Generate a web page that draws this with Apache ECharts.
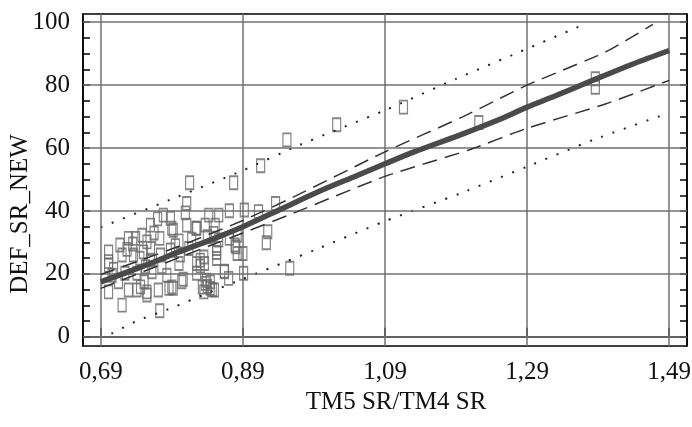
<!DOCTYPE html>
<html>
<head>
<meta charset="utf-8">
<script src="https://cdn.jsdelivr.net/npm/echarts@6/dist/echarts.min.js"></script>
<style>
html,body{margin:0;padding:0;background:#fff;}
#chart{width:692px;height:427px;}
</style>
</head>
<body>
<div id="chart"></div>
<script>
const xTicks = [0.69, 0.89, 1.09, 1.29, 1.49];
const xTickLabels = ['0,69', '0,89', '1,09', '1,29', '1,49'];
const yTicks = [0, 20, 40, 60, 80, 100];
const yMinorTicks = [0,5,10,15,20,25,30,35,40,45,50,55,60,65,70,75,80,85,90,95,100];
const xTitle = 'TM5 SR/TM4 SR';
const yTitle = 'DEF_SR_NEW';

const points = [
  [0.915,54.4],[0.952,62.6],[1.022,67.4],[1.116,73.0],[1.222,68.1],[1.386,82.0],[1.386,79.3],
  [0.815,49.0],[0.877,49.0],[0.811,42.4],[0.936,42.4],[0.892,40.3],[0.912,39.8],[0.925,33.4],
  [0.923,29.9],[0.956,21.8],[0.891,20.2],[0.890,26.5],[0.879,29.2],
  [0.778,38.7],[0.788,37.7],[0.809,39.4],[0.842,38.7],[0.856,38.7],[0.871,40.1],
  [0.811,35.5],[0.792,33.9],[0.773,31.3],[0.824,34.5],[0.837,35.5],[0.851,35.5],[0.840,31.8],
  [0.856,30.8],[0.871,31.3],[0.882,32.3],[0.880,28.6],[0.853,28.1],[0.853,24.9],[0.835,25.4],
  [0.830,22.5],[0.864,20.9],[0.870,18.6],
  [0.837,17.0],[0.844,15.4],[0.850,14.9],[0.835,14.3],[0.844,17.5],[0.792,15.4],[0.771,14.9],
  [0.755,14.3],[0.741,14.9],[0.729,14.9],[0.701,14.3],[0.720,10.1],[0.773,8.3],[0.755,13.3],[0.806,18.3],
  [0.701,27.0],[0.701,23.9],[0.717,29.2],[0.729,31.3],[0.739,31.3],[0.748,32.3],[0.755,30.2],
  [0.760,28.1],[0.720,26.0],[0.736,26.0],[0.750,27.0],[0.760,24.4],[0.753,22.3],[0.774,26.0],
  [0.788,27.6],[0.802,26.0],[0.814,28.1],[0.800,23.3],[0.776,22.3],[0.762,20.7],[0.741,20.2],
  [0.724,20.2],[0.706,19.6],[0.701,22.8],[0.746,15.9],[0.783,19.6],[0.825,20.2],[0.825,23.3],
  [0.786,15.4],[0.751,17.5],[0.790,34.5],[0.825,34.5],[0.849,32.9],[0.790,15.9],[0.804,17.5],
  [0.830,24.4],[0.836,23.3],[0.853,26.8],[0.864,20.7],[0.882,26.5],[0.840,16.0],[0.847,15.0],
  [0.833,15.8],[0.839,18.0],
  [0.735,29.5],[0.745,25.0],[0.765,33.0],[0.727,27.8],[0.708,21.5],[0.715,17.5],[0.770,37.5],
  [0.760,35.5],[0.800,30.5],[0.795,29.0],[0.818,31.0]
];

const fitLine = [[0.69,17.5],[0.75,22.5],[0.80,27.0],[0.85,31.3],[0.89,35.0],[0.95,41.3],[1.00,46.5],
  [1.05,51.2],[1.09,55.0],[1.13,58.7],[1.196,64.2],[1.25,69.0],[1.29,73.0],[1.33,76.6],[1.383,81.6],
  [1.44,86.8],[1.49,91.0]];
const confUpper = [[0.69,19.8],[0.80,28.8],[0.89,37.0],[0.96,44.3],[1.09,58.8],[1.20,70.0],[1.29,80.0],[1.40,90.5],[1.467,99.3]];
const confLower = [[0.69,15.4],[0.80,25.2],[0.89,33.0],[0.96,39.2],[1.09,51.0],[1.208,59.4],[1.29,66.3],[1.40,74.0],[1.49,81.5]];
const predUpper = [[0.69,34.8],[0.79,43.8],[0.89,52.9],[0.97,61.0],[1.09,72.0],[1.19,82.0],[1.28,90.6],[1.365,98.8]];
const predLower = [[0.705,1.0],[0.741,5.1],[0.79,9.2],[0.841,14.0],[0.89,18.4],[0.99,27.5],[1.088,36.6],[1.196,45.6],[1.29,54.1],[1.383,62.6],[1.49,71.2]];

const font = '"Liberation Serif", "Times New Roman", serif';
const chart = echarts.init(document.getElementById('chart'), null, {renderer: 'canvas'});

chart.setOption({
  animation: false,
  backgroundColor: '#fff',
  grid: {left: 83, right: 5, top: 14, bottom: 81, show: true, borderColor: '#000', borderWidth: 1.5,
    backgroundColor: 'transparent', containLabel: false, outerBoundsMode: 'none'},
  xAxis: {
    type: 'value', min: 0.665, max: 1.515,
    name: xTitle, nameLocation: 'middle', nameGap: 44, nameMoveOverlap: false,
    nameTextStyle: {fontFamily: font, fontSize: 25, color: '#111', padding: [0, 0, 0, 22]},
    axisLine: {show: true, lineStyle: {color: '#000', width: 1.5}},
    axisTick: {show: true, inside: true, length: 9, customValues: xTicks, lineStyle: {color: '#000', width: 1.5}},
    axisLabel: {show: true, customValues: xTicks, margin: 14, fontFamily: font, fontSize: 25, color: '#111',
      hideOverlap: false,
      formatter: function (v) { const i = xTicks.findIndex(t => Math.abs(t - v) < 1e-6); return i >= 0 ? xTickLabels[i] : ''; }},
    splitLine: {show: false}
  },
  yAxis: [{
    type: 'value', min: -2.9, max: 102.6, position: 'left',
    name: yTitle, nameLocation: 'middle', nameGap: 50, nameRotate: 90, nameMoveOverlap: false,
    nameTextStyle: {fontFamily: font, fontSize: 25, color: '#111', padding: [0, 68, 0, 0]},
    axisLine: {show: true, lineStyle: {color: '#000', width: 1.5}},
    axisTick: {show: true, inside: true, length: 7, customValues: yMinorTicks, lineStyle: {color: '#000', width: 1.5}},
    axisLabel: {show: true, customValues: yTicks, margin: 13, fontFamily: font, fontSize: 25, color: '#111'},
    splitLine: {show: false}
  }, {
    type: 'value', min: -2.9, max: 102.6, position: 'right',
    axisLine: {show: true, lineStyle: {color: '#000', width: 1.5}},
    axisTick: {show: true, inside: true, length: 7, customValues: yMinorTicks, lineStyle: {color: '#000', width: 1.5}},
    axisLabel: {show: false},
    splitLine: {show: false}
  }],
  series: [
    {
      type: 'line', data: [], z: 1, silent: true,
      markLine: {
        silent: true, symbol: ['none', 'none'], animation: false,
        label: {show: false},
        lineStyle: {color: '#707070', width: 1.5, type: 'solid'},
        emphasis: {disabled: true},
        data: xTicks.map(v => ({xAxis: v})).concat(yTicks.map(v => ({yAxis: v})))
      }
    },
    {
      type: 'scatter', data: points, z: 3, symbol: 'rect', symbolSize: [8, 13],
      itemStyle: {color: 'rgba(0,0,0,0)', borderColor: '#666', borderWidth: 1.5}
    },
    {type: 'line', data: predUpper, z: 4, showSymbol: false, smooth: 0.2,
      lineStyle: {color: '#222', width: 2, type: [2, 10]}},
    {type: 'line', data: predLower, z: 4, showSymbol: false, smooth: 0.2,
      lineStyle: {color: '#222', width: 2, type: [2, 10]}},
    {type: 'line', data: confUpper, z: 5, showSymbol: false, smooth: 0.2,
      lineStyle: {color: '#333', width: 1.5, type: [15, 8]}},
    {type: 'line', data: confLower, z: 5, showSymbol: false, smooth: 0.2,
      lineStyle: {color: '#333', width: 1.5, type: [15, 8]}},
    {type: 'line', data: fitLine, z: 6, showSymbol: false, smooth: 0.3,
      lineStyle: {color: '#4a4a4a', width: 5.5}}
  ]
});
</script>
</body>
</html>
